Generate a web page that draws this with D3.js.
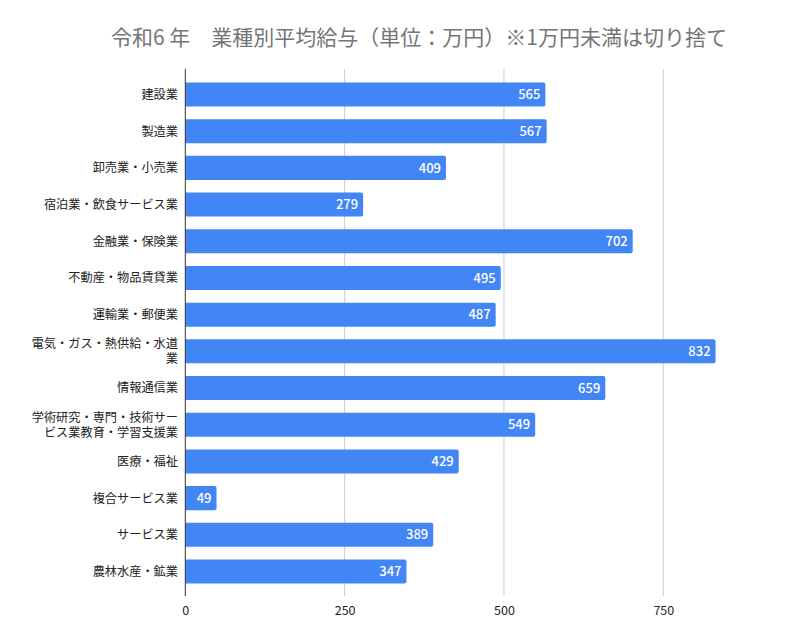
<!DOCTYPE html>
<html>
<head>
<meta charset="utf-8">
<script src="https://cdn.jsdelivr.net/npm/d3@7"></script>
<style>
  html, body { margin: 0; padding: 0; background: #fff; }
  svg { display: block; font-family: "Noto Sans CJK JP", "Noto Sans", sans-serif; }
</style>
</head>
<body>
<svg id="chart" width="800" height="626"></svg>
<script>
const titleText = "令和6 年　業種別平均給与（単位：万円）※1万円未満は切り捨て";
const categories = [
  ["建設業"],
  ["製造業"],
  ["卸売業・小売業"],
  ["宿泊業・飲食サービス業"],
  ["金融業・保険業"],
  ["不動産・物品賃貸業"],
  ["運輸業・郵便業"],
  ["電気・ガス・熱供給・水道", "業"],
  ["情報通信業"],
  ["学術研究・専門・技術サー", "ビス業教育・学習支援業"],
  ["医療・福祉"],
  ["複合サービス業"],
  ["サービス業"],
  ["農林水産・鉱業"]
];
const values = [565, 567, 409, 279, 702, 495, 487, 832, 659, 549, 429, 49, 389, 347];
const xTicks = [0, 250, 500, 750];

const svg = d3.select("#chart");
const x0 = 185.3, x750 = 663.3;
const x = d3.scaleLinear().domain([0, 750]).range([x0, x750]);
const keys = categories.map((c, i) => i);
const y = d3.scaleBand().domain(keys).range([70, 596]).paddingInner(0.345).paddingOuter(0.34);

// Title
svg.append("text")
  .attr("x", 419).attr("y", 45)
  .attr("text-anchor", "middle")
  .attr("font-size", 21)
  .attr("fill", "#757575")
  .text(titleText);

// Gridlines
svg.append("g").selectAll("line")
  .data(xTicks.filter(t => t !== 0))
  .join("line")
  .attr("x1", d => x(d)).attr("x2", d => x(d))
  .attr("y1", 69).attr("y2", 596)
  .attr("stroke", "#cccccc").attr("stroke-width", 1);

// Bars
svg.append("g").selectAll("path")
  .data(values)
  .join("path")
  .attr("fill", "#4285f4")
  .attr("d", (d, i) => {
    const xa = x(0), xb = x(d), ya = y(i), h = y.bandwidth(), r = 2;
    return `M${xa},${ya}H${xb - r}Q${xb},${ya} ${xb},${ya + r}V${ya + h - r}Q${xb},${ya + h} ${xb - r},${ya + h}H${xa}Z`;
  });

// Value labels
svg.append("g").selectAll("text")
  .data(values)
  .join("text")
  .attr("x", d => x(d) - 5)
  .attr("y", (d, i) => y(i) + y.bandwidth() / 2)
  .attr("dy", "0.36em")
  .attr("text-anchor", "end")
  .attr("font-size", 13)
  .attr("font-weight", 500)
  .attr("fill", "#ffffff")
  .text(d => d);

// Zero axis line
svg.append("line")
  .attr("x1", x(0)).attr("x2", x(0))
  .attr("y1", 69).attr("y2", 596)
  .attr("stroke", "#333333").attr("stroke-width", 1);

// Category labels (each wrapped line as its own text)
const catG = svg.append("g");
categories.forEach((lines, i) => {
  const cy = y(i) + y.bandwidth() / 2;
  const lh = 15;
  lines.forEach((ln, j) => {
    catG.append("text")
      .attr("text-anchor", "end")
      .attr("font-family", "\"Liberation Sans\", \"Noto Sans CJK JP\", sans-serif")
      .attr("font-size", 12.2)
      .attr("fill", "#222222")
      .attr("x", 178)
      .attr("y", cy + (j - (lines.length - 1) / 2) * lh)
      .attr("dy", "0.36em")
      .text(ln);
  });
});

// X axis labels
const axis = d3.axisBottom(x).tickValues(xTicks).tickSize(0).tickPadding(0).tickFormat(d3.format("d"));
const ag = svg.append("g").attr("transform", "translate(0,606)").call(axis);
ag.select(".domain").remove();
ag.selectAll("text").attr("font-size", 12.5).attr("fill", "#222222")
  .attr("font-family", "\"Noto Sans CJK JP\", \"Noto Sans\", sans-serif");
</script>
</body>
</html>
